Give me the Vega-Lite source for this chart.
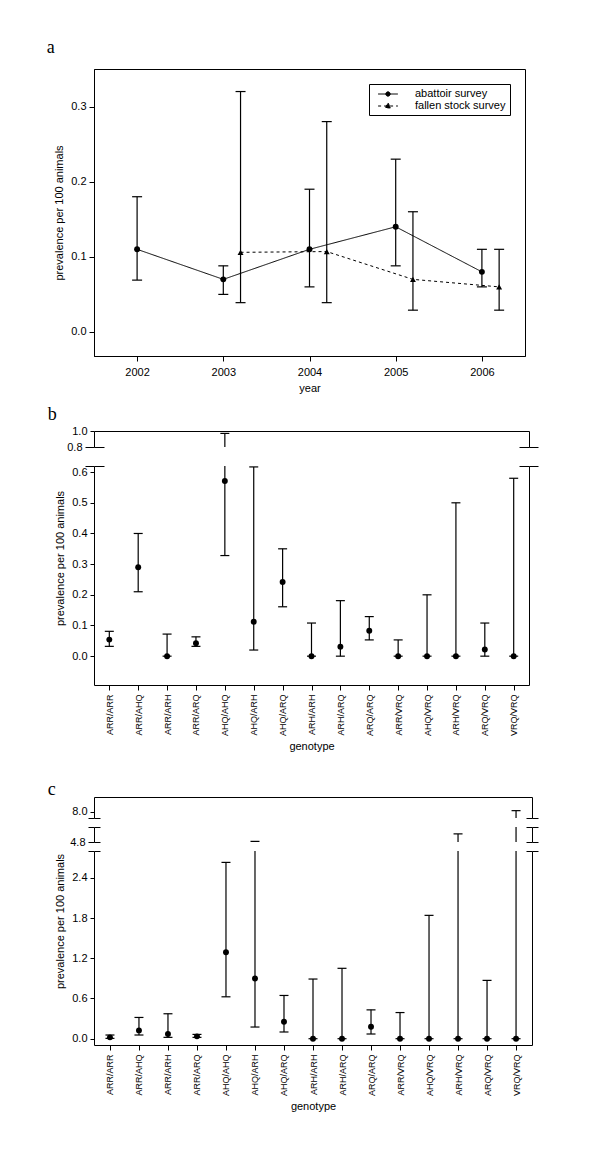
{
  "$schema": "https://vega.github.io/schema/vega-lite/v6.json",
  "background": "white",
  "padding": {"left": 46, "top": 38, "right": 5, "bottom": 5},
  "autosize": {"type": "pad"},
  "resolve": {"legend": {"strokeDash": "independent"}},
  "config": {
    "font": "Liberation Sans",
    "view": {"stroke": null},
    "axis": {"grid": false, "domainColor": "#000", "tickColor": "#000", "labelColor": "#000", "titleColor": "#000", "labelFontSize": 11, "titleFontSize": 11, "titleFontWeight": "normal", "labelFont": "Liberation Sans", "titleFont": "Liberation Sans", "tickSize": 4, "domainWidth": 1, "tickWidth": 1, "labelPadding": 3, "titlePadding": 6, "labelOverlap": false, "labelFlush": false},
    "title": {"font": "Liberation Serif", "fontSize": 18, "fontWeight": "normal", "anchor": "start", "color": "#000"},
    "legend": {"labelFont": "Liberation Sans", "labelFontSize": 11, "labelColor": "#000"}
  },
  "datasets": {
    "surv": [
      {"survey": "abattoir survey", "year": 2002, "p": 0.11, "lo": 0.069, "hi": 0.18},
      {"survey": "abattoir survey", "year": 2003, "p": 0.07, "lo": 0.05, "hi": 0.088},
      {"survey": "abattoir survey", "year": 2004, "p": 0.11, "lo": 0.06, "hi": 0.19},
      {"survey": "abattoir survey", "year": 2005, "p": 0.14, "lo": 0.088, "hi": 0.23},
      {"survey": "abattoir survey", "year": 2006, "p": 0.08, "lo": 0.06, "hi": 0.11},
      {"survey": "fallen stock survey", "year": 2003, "p": 0.106, "lo": 0.039, "hi": 0.32},
      {"survey": "fallen stock survey", "year": 2004, "p": 0.107, "lo": 0.039, "hi": 0.28},
      {"survey": "fallen stock survey", "year": 2005, "p": 0.07, "lo": 0.029, "hi": 0.16},
      {"survey": "fallen stock survey", "year": 2006, "p": 0.06, "lo": 0.029, "hi": 0.11}
    ],
    "gb": [
      {"genotype": "ARR/ARR", "p": 0.054, "lo": 0.032, "hi": 0.081},
      {"genotype": "ARR/AHQ", "p": 0.29, "lo": 0.21, "hi": 0.40},
      {"genotype": "ARR/ARH", "p": 0, "lo": 0, "hi": 0.072},
      {"genotype": "ARR/ARQ", "p": 0.042, "lo": 0.032, "hi": 0.063},
      {"genotype": "AHQ/AHQ", "p": 0.571, "lo": 0.328, "hi": 0.97},
      {"genotype": "AHQ/ARH", "p": 0.112, "lo": 0.02, "hi": 0.617},
      {"genotype": "AHQ/ARQ", "p": 0.242, "lo": 0.161, "hi": 0.35},
      {"genotype": "ARH/ARH", "p": 0, "lo": 0, "hi": 0.108},
      {"genotype": "ARH/ARQ", "p": 0.031, "lo": 0, "hi": 0.181},
      {"genotype": "ARQ/ARQ", "p": 0.083, "lo": 0.053, "hi": 0.129},
      {"genotype": "ARR/VRQ", "p": 0, "lo": 0, "hi": 0.053},
      {"genotype": "AHQ/VRQ", "p": 0, "lo": 0, "hi": 0.2},
      {"genotype": "ARH/VRQ", "p": 0, "lo": 0, "hi": 0.5},
      {"genotype": "ARQ/VRQ", "p": 0.022, "lo": 0, "hi": 0.108},
      {"genotype": "VRQ/VRQ", "p": 0, "lo": 0, "hi": 0.58}
    ],
    "gc": [
      {"genotype": "ARR/ARR", "p": 0.02, "lo": 0.005, "hi": 0.055},
      {"genotype": "ARR/AHQ", "p": 0.124, "lo": 0.055, "hi": 0.317},
      {"genotype": "ARR/ARH", "p": 0.07, "lo": 0.02, "hi": 0.372},
      {"genotype": "ARR/ARQ", "p": 0.035, "lo": 0.02, "hi": 0.064},
      {"genotype": "AHQ/AHQ", "p": 1.29, "lo": 0.625, "hi": 2.63},
      {"genotype": "AHQ/ARH", "p": 0.897, "lo": 0.174, "hi": 4.85},
      {"genotype": "AHQ/ARQ", "p": 0.253, "lo": 0.1, "hi": 0.645},
      {"genotype": "ARH/ARH", "p": 0, "lo": 0, "hi": 0.89},
      {"genotype": "ARH/ARQ", "p": 0, "lo": 0, "hi": 1.05},
      {"genotype": "ARQ/ARQ", "p": 0.178, "lo": 0.07, "hi": 0.43},
      {"genotype": "ARR/VRQ", "p": 0, "lo": 0, "hi": 0.39},
      {"genotype": "AHQ/VRQ", "p": 0, "lo": 0, "hi": 1.84},
      {"genotype": "ARH/VRQ", "p": 0, "lo": 0, "hi": 5.45},
      {"genotype": "ARQ/VRQ", "p": 0, "lo": 0, "hi": 0.87},
      {"genotype": "VRQ/VRQ", "p": 0, "lo": 0, "hi": 8.05}
    ]
  },
  "spacing": 11,
  "vconcat": [
    {
      "title": {"text": "a", "dx": -7, "offset": 12},
      "width": 431,
      "height": 287,
      "view": {"stroke": "#000"},
      "data": {"name": "surv"},
      "transform": [
        {"calculate": "datum.survey == 'fallen stock survey' ? datum.year + 0.2 : datum.year", "as": "xpos"}
      ],
      "encoding": {
        "x": {"field": "xpos", "type": "quantitative", "scale": {"domain": [2001.5, 2006.5], "nice": false, "zero": false}, "axis": {"values": [2002, 2003, 2004, 2005, 2006], "format": "d", "title": "year", "tickSize": 5, "labelPadding": 5, "titlePadding": 5}}
      },
      "layer": [
        {
          "mark": {"type": "line", "color": "#000", "strokeWidth": 1},
          "encoding": {
            "y": {"field": "p", "type": "quantitative", "scale": {"domain": [-0.032, 0.35], "nice": false, "zero": false}, "axis": {"values": [0, 0.1, 0.2, 0.3], "format": ".1f", "title": "prevalence per 100 animals", "tickSize": 5}},
            "strokeDash": {"field": "survey", "type": "nominal", "scale": {"domain": ["abattoir survey", "fallen stock survey"], "range": [[1, 0], [3, 3]]},
              "legend": {"title": null, "orient": "top-right", "offset": 15, "strokeColor": "#000", "padding": 4, "symbolSize": 121, "symbolOffset": 9, "symbolStrokeWidth": 1, "symbolStrokeColor": "#000", "symbolFillColor": "#000", "labelOffset": 21, "rowPadding": 1,
                "encode": {"symbols": {"update": {"shape": {"signal": "datum.value == 'abattoir survey' ? 'M-1.8,0L1.8,0M0.4,0A0.4,0.4 0 1 1 -0.4,0A0.4,0.4 0 1 1 0.4,0Z' : 'M-1.8,0L1.8,0M0,-0.55L0.5,0.35L-0.5,0.35Z'"}, "fill": {"value": "#000"}, "stroke": {"value": "#000"}}}}}}
          }
        },
        {
          "mark": {"type": "rule", "color": "#000", "strokeWidth": 1.2},
          "encoding": {"y": {"field": "lo", "type": "quantitative", "scale": {"domain": [-0.032, 0.35], "nice": false, "zero": false}, "axis": {"values": [0, 0.1, 0.2, 0.3], "format": ".1f", "title": "prevalence per 100 animals", "tickSize": 5}}, "y2": {"field": "hi"}}
        },
        {
          "mark": {"type": "tick", "orient": "horizontal", "color": "#000", "size": 10, "thickness": 1.2, "opacity": 1},
          "encoding": {"y": {"field": "hi", "type": "quantitative", "scale": {"domain": [-0.032, 0.35], "nice": false, "zero": false}, "axis": {"values": [0, 0.1, 0.2, 0.3], "format": ".1f", "title": "prevalence per 100 animals", "tickSize": 5}}}
        },
        {
          "mark": {"type": "tick", "orient": "horizontal", "color": "#000", "size": 10, "thickness": 1.2, "opacity": 1},
          "encoding": {"y": {"field": "lo", "type": "quantitative", "scale": {"domain": [-0.032, 0.35], "nice": false, "zero": false}, "axis": {"values": [0, 0.1, 0.2, 0.3], "format": ".1f", "title": "prevalence per 100 animals", "tickSize": 5}}}
        },
        {
          "transform": [{"filter": "datum.survey == 'abattoir survey'"}],
          "mark": {"type": "point", "shape": "circle", "filled": true, "color": "#000", "size": 35, "opacity": 1},
          "encoding": {
            "y": {"field": "p", "type": "quantitative", "scale": {"domain": [-0.032, 0.35], "nice": false, "zero": false}, "axis": {"values": [0, 0.1, 0.2, 0.3], "format": ".1f", "title": "prevalence per 100 animals", "tickSize": 5}}
          }
        },
        {
          "transform": [{"filter": "datum.survey == 'fallen stock survey'"}],
          "mark": {"type": "point", "shape": "triangle-up", "filled": true, "color": "#000", "size": 35, "opacity": 1},
          "encoding": {
            "y": {"field": "p", "type": "quantitative", "scale": {"domain": [-0.032, 0.35], "nice": false, "zero": false}, "axis": {"values": [0, 0.1, 0.2, 0.3], "format": ".1f", "title": "prevalence per 100 animals", "tickSize": 5}}
          }
        }
      ]
    },
    {
      "spacing": 29,
      "vconcat": [
        {
          "title": {"text": "b", "dx": -7, "offset": 1.5},
          "spacing": 19,
          "bounds": "flush",
          "vconcat": [
            {
              "width": 435,
              "height": 16,
              "data": {"name": "gb"},
              "resolve": {"axis": {"x": "independent", "y": "independent"}},
              "layer": [
                {
                  "mark": {"type": "rule", "color": "#000", "strokeWidth": 1.2, "clip": true},
                  "encoding": {
                    "x": {"field": "genotype", "type": "nominal", "sort": null, "scale": {"type": "point", "padding": 0.53}, "axis": {"orient": "bottom", "labels": false, "ticks": false, "title": null, "domainDash": [10, 415, 10]}},
                    "y": {"field": "lo", "type": "quantitative", "scale": {"domain": [0.8, 1.0], "nice": false, "zero": false}, "axis": {"orient": "left", "values": [0.8, 1.0], "format": ".1f", "title": null, "tickSize": {"condition": {"test": "datum.value < 0.9", "value": 9}, "value": 4}}},
                    "y2": {"field": "hi"}
                  }
                },
                {
                  "mark": {"type": "tick", "orient": "horizontal", "color": "#000", "size": 9, "thickness": 1.2, "opacity": 1, "clip": true},
                  "encoding": {
                    "x": {"field": "genotype", "type": "nominal", "sort": null, "scale": {"type": "point", "padding": 0.53}, "axis": {"orient": "top", "labels": false, "ticks": false, "title": null}},
                    "y": {"field": "hi", "type": "quantitative", "scale": {"domain": [0.8, 1.0], "nice": false, "zero": false}, "axis": {"orient": "right", "values": [0.8], "labels": false, "tickSize": 9, "title": null}}
                  }
                }
              ]
            },
            {
              "width": 435,
              "height": 219,
              "data": {"name": "gb"},
              "resolve": {"axis": {"x": "independent", "y": "independent"}},
              "layer": [
                {
                  "mark": {"type": "rule", "color": "#000", "strokeWidth": 1.2, "clip": true},
                  "encoding": {
                    "x": {"field": "genotype", "type": "nominal", "sort": null, "scale": {"type": "point", "padding": 0.53}, "axis": {"orient": "bottom", "title": "genotype", "labelAngle": -90, "labelFontSize": 9, "tickSize": 5, "labelPadding": 4, "titlePadding": 5}},
                    "y": {"field": "lo", "type": "quantitative", "scale": {"domain": [-0.094, 0.62], "nice": false, "zero": false}, "axis": {"orient": "left", "values": [0, 0.1, 0.2, 0.3, 0.4, 0.5, 0.6, 0.62], "labelExpr": "datum.value > 0.61 ? '' : format(datum.value, '.1f')", "title": "prevalence per 100 animals", "titleY": 92, "tickSize": {"condition": {"test": "datum.value > 0.61", "value": 9}, "value": 4}}},
                    "y2": {"field": "hi"}
                  }
                },
                {
                  "mark": {"type": "tick", "orient": "horizontal", "color": "#000", "size": 9, "thickness": 1.2, "opacity": 1, "clip": true},
                  "encoding": {
                    "x": {"field": "genotype", "type": "nominal", "sort": null, "scale": {"type": "point", "padding": 0.53}, "axis": {"orient": "top", "labels": false, "ticks": false, "title": null, "domainDash": [10, 415, 10]}},
                    "y": {"field": "hi", "type": "quantitative", "scale": {"domain": [-0.094, 0.62], "nice": false, "zero": false}, "axis": {"orient": "right", "values": [0.62], "labels": false, "tickSize": 9, "title": null}}
                  }
                },
                {
                  "mark": {"type": "tick", "orient": "horizontal", "color": "#000", "size": 9, "thickness": 1.2, "opacity": 1, "clip": true},
                  "encoding": {
                    "x": {"field": "genotype", "type": "nominal", "sort": null, "scale": {"type": "point", "padding": 0.53}, "axis": null},
                    "y": {"field": "lo", "type": "quantitative", "scale": {"domain": [-0.094, 0.62], "nice": false, "zero": false}, "axis": null}
                  }
                },
                {
                  "mark": {"type": "point", "filled": true, "color": "#000", "size": 35, "opacity": 1, "clip": true},
                  "encoding": {
                    "x": {"field": "genotype", "type": "nominal", "sort": null, "scale": {"type": "point", "padding": 0.53}, "axis": null},
                    "y": {"field": "p", "type": "quantitative", "scale": {"domain": [-0.094, 0.62], "nice": false, "zero": false}, "axis": null}
                  }
                }
              ]
            }
          ]
        },
        {
          "title": {"text": "c", "dx": -7, "offset": -2},
          "spacing": 9,
          "bounds": "flush",
          "vconcat": [
            {
              "width": 438,
              "height": 21,
              "data": {"name": "gc"},
              "resolve": {"axis": {"x": "independent", "y": "independent"}},
              "layer": [
                {
                  "mark": {"type": "rule", "color": "#000", "strokeWidth": 1.2, "clip": true},
                  "encoding": {
                    "x": {"field": "genotype", "type": "nominal", "sort": null, "scale": {"type": "point", "padding": 0.55}, "axis": {"orient": "bottom", "labels": false, "ticks": false, "title": null, "domainDash": [6, 426, 6]}},
                    "y": {"field": "lo", "type": "quantitative", "scale": {"domain": [7.7, 8.7], "nice": false, "zero": false}, "axis": {"orient": "left", "values": [7.7, 8.0], "labelExpr": "datum.value < 7.8 ? '' : format(datum.value, '.1f')", "title": null, "tickSize": {"condition": {"test": "datum.value < 7.8", "value": 6}, "value": 4}}},
                    "y2": {"field": "hi"}
                  }
                },
                {
                  "mark": {"type": "tick", "orient": "horizontal", "color": "#000", "size": 9, "thickness": 1.2, "opacity": 1, "clip": true},
                  "encoding": {
                    "x": {"field": "genotype", "type": "nominal", "sort": null, "scale": {"type": "point", "padding": 0.55}, "axis": {"orient": "top", "labels": false, "ticks": false, "title": null}},
                    "y": {"field": "hi", "type": "quantitative", "scale": {"domain": [7.7, 8.7], "nice": false, "zero": false}, "axis": {"orient": "right", "values": [7.7], "labels": false, "tickSize": 6, "title": null}}
                  }
                }
              ]
            },
            {
              "width": 438,
              "height": 15,
              "data": {"name": "gc"},
              "resolve": {"axis": {"x": "independent", "y": "independent"}},
              "layer": [
                {
                  "mark": {"type": "rule", "color": "#000", "strokeWidth": 1.2, "clip": true},
                  "encoding": {
                    "x": {"field": "genotype", "type": "nominal", "sort": null, "scale": {"type": "point", "padding": 0.55}, "axis": {"orient": "bottom", "labels": false, "ticks": false, "title": null, "domainDash": [6, 426, 6]}},
                    "y": {"field": "lo", "type": "quantitative", "scale": {"domain": [4.8, 6.0], "nice": false, "zero": false}, "axis": {"orient": "left", "values": [4.8, 6.0], "labelExpr": "datum.value > 5.9 ? '' : format(datum.value, '.1f')", "title": null, "tickSize": 6}},
                    "y2": {"field": "hi"}
                  }
                },
                {
                  "mark": {"type": "tick", "orient": "horizontal", "color": "#000", "size": 9, "thickness": 1.2, "opacity": 1, "clip": true},
                  "encoding": {
                    "x": {"field": "genotype", "type": "nominal", "sort": null, "scale": {"type": "point", "padding": 0.55}, "axis": {"orient": "top", "labels": false, "ticks": false, "title": null, "domainDash": [6, 426, 6]}},
                    "y": {"field": "hi", "type": "quantitative", "scale": {"domain": [4.8, 6.0], "nice": false, "zero": false}, "axis": {"orient": "right", "values": [4.8, 6.0], "labels": false, "tickSize": 6, "title": null}}
                  }
                }
              ]
            },
            {
              "width": 438,
              "height": 194,
              "data": {"name": "gc"},
              "resolve": {"axis": {"x": "independent", "y": "independent"}},
              "layer": [
                {
                  "mark": {"type": "rule", "color": "#000", "strokeWidth": 1.2, "clip": true},
                  "encoding": {
                    "x": {"field": "genotype", "type": "nominal", "sort": null, "scale": {"type": "point", "padding": 0.55}, "axis": {"orient": "bottom", "title": "genotype", "labelAngle": -90, "labelFontSize": 9, "tickSize": 5, "labelPadding": 4, "titlePadding": 5}},
                    "y": {"field": "lo", "type": "quantitative", "scale": {"domain": [-0.094, 2.8], "nice": false, "zero": false}, "axis": {"orient": "left", "values": [0, 0.6, 1.2, 1.8, 2.4, 2.8], "labelExpr": "datum.value > 2.7 ? '' : format(datum.value, '.1f')", "title": "prevalence per 100 animals", "titleY": 70, "tickSize": {"condition": {"test": "datum.value > 2.7", "value": 6}, "value": 4}}},
                    "y2": {"field": "hi"}
                  }
                },
                {
                  "mark": {"type": "tick", "orient": "horizontal", "color": "#000", "size": 9, "thickness": 1.2, "opacity": 1, "clip": true},
                  "encoding": {
                    "x": {"field": "genotype", "type": "nominal", "sort": null, "scale": {"type": "point", "padding": 0.55}, "axis": {"orient": "top", "labels": false, "ticks": false, "title": null, "domainDash": [6, 426, 6]}},
                    "y": {"field": "hi", "type": "quantitative", "scale": {"domain": [-0.094, 2.8], "nice": false, "zero": false}, "axis": {"orient": "right", "values": [2.8], "labels": false, "tickSize": 6, "title": null}}
                  }
                },
                {
                  "mark": {"type": "tick", "orient": "horizontal", "color": "#000", "size": 9, "thickness": 1.2, "opacity": 1, "clip": true},
                  "encoding": {
                    "x": {"field": "genotype", "type": "nominal", "sort": null, "scale": {"type": "point", "padding": 0.55}, "axis": null},
                    "y": {"field": "lo", "type": "quantitative", "scale": {"domain": [-0.094, 2.8], "nice": false, "zero": false}, "axis": null}
                  }
                },
                {
                  "mark": {"type": "point", "filled": true, "color": "#000", "size": 35, "opacity": 1, "clip": true},
                  "encoding": {
                    "x": {"field": "genotype", "type": "nominal", "sort": null, "scale": {"type": "point", "padding": 0.55}, "axis": null},
                    "y": {"field": "p", "type": "quantitative", "scale": {"domain": [-0.094, 2.8], "nice": false, "zero": false}, "axis": null}
                  }
                }
              ]
            }
          ]
        }
      ]
    }
  ]
}
